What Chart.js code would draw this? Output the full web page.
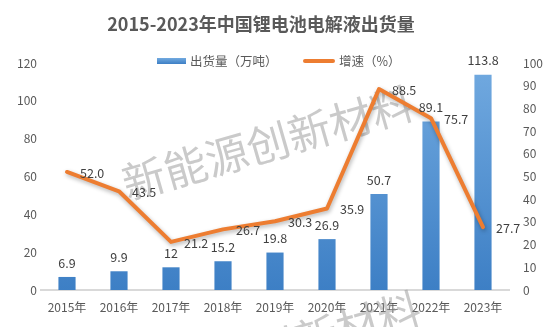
<!DOCTYPE html>
<html>
<head>
<meta charset="utf-8">
<script src="https://cdn.jsdelivr.net/npm/chart.js@4"></script>
<style>
html,body{margin:0;padding:0;background:#fff;}
#wrap{width:556px;height:327px;}
</style>
</head>
<body>
<div id="wrap"><canvas id="c" width="556" height="327"></canvas></div>
<script>
const categories = ['2015年','2016年','2017年','2018年','2019年','2020年','2021年','2022年','2023年'];
const shipments = [6.9, 9.9, 12, 15.2, 19.8, 26.9, 50.7, 89.1, 113.8];
const growth = [52.0, 43.5, 21.2, 26.7, 30.3, 35.9, 88.5, 75.7, 27.7];
const leftTicks = [0, 20, 40, 60, 80, 100, 120];
const rightTicks = [0, 10, 20, 30, 40, 50, 60, 70, 80, 90, 100];
const titleText = '2015-2023年中国锂电池电解液出货量';
const seriesNames = ['出货量（万吨）', '增速（%）'];
const watermarkText = '新能源创新材料';

const FONT = "'Noto Sans CJK SC', 'Microsoft YaHei', sans-serif";
Chart.defaults.font.family = FONT;

const BLUE_TOP = '#72aae0';
const BLUE_BOT = '#3d7fc5';
const ORANGE = '#ED7D31';

function barGradient(ctx) {
  const chart = ctx.chart;
  const area = chart.chartArea;
  if (!area) return BLUE_BOT;
  const g = chart.ctx.createLinearGradient(0, area.top, 0, area.bottom);
  g.addColorStop(0, BLUE_TOP);
  g.addColorStop(1, BLUE_BOT);
  return g;
}

const decorPlugin = {
  id: 'decor',
  beforeDatasetsDraw(chart) {
    const ctx = chart.ctx;
    ctx.save();
    ctx.fillStyle = 'rgba(150,150,150,0.5)';
    ctx.font = '43px ' + FONT;
    ctx.textAlign = 'center';
    ctx.textBaseline = 'middle';
    [[268, 143], [275, 348]].forEach(([x, y]) => {
      ctx.save();
      ctx.translate(x, y);
      ctx.rotate(-16 * Math.PI / 180);
      ctx.fillText(watermarkText, 0, 0);
      ctx.restore();
    });
    ctx.restore();
  },
  beforeDatasetDraw(chart, args) {
    if (args.index === 1) {
      const ctx = chart.ctx;
      ctx.save();
      ctx.shadowColor = 'rgba(0,0,0,0.3)';
      ctx.shadowBlur = 4;
      ctx.shadowOffsetX = 1;
      ctx.shadowOffsetY = 2;
    }
  },
  afterDatasetDraw(chart, args) {
    if (args.index === 1) chart.ctx.restore();
  },
  afterDatasetsDraw(chart) {
    const ctx = chart.ctx;
    ctx.save();
    ctx.fillStyle = '#404040';
    ctx.font = '12.5px ' + FONT;
    ctx.textBaseline = 'middle';
    const barMeta = chart.getDatasetMeta(0);
    ctx.textAlign = 'center';
    barMeta.data.forEach((el, i) => {
      ctx.fillText(String(shipments[i]), el.x, el.y - 14);
    });
    const lineMeta = chart.getDatasetMeta(1);
    ctx.textAlign = 'left';
    lineMeta.data.forEach((el, i) => {
      ctx.fillText(growth[i].toFixed(1), el.x + 13, el.y + 1);
    });
    ctx.restore();
  },
  afterDraw(chart) {
    const ctx = chart.ctx;
    ctx.save();
    // title
    ctx.fillStyle = '#595959';
    ctx.font = 'bold 18px ' + FONT;
    ctx.textAlign = 'center';
    ctx.textBaseline = 'middle';
    ctx.fillText(titleText, 261, 24);
    // legend
    const ly = 61;
    const g = ctx.createLinearGradient(0, ly - 3, 0, ly + 3);
    g.addColorStop(0, BLUE_TOP);
    g.addColorStop(1, BLUE_BOT);
    ctx.fillStyle = g;
    ctx.fillRect(157, ly - 3, 29, 6);
    ctx.strokeStyle = ORANGE;
    ctx.lineWidth = 4;
    ctx.lineCap = 'round';
    ctx.beginPath();
    ctx.moveTo(305, ly);
    ctx.lineTo(333, ly);
    ctx.stroke();
    ctx.fillStyle = '#595959';
    ctx.font = '12.5px ' + FONT;
    ctx.textAlign = 'left';
    ctx.fillText(seriesNames[0], 190, ly);
    ctx.fillText(seriesNames[1], 339, ly);
    ctx.restore();
  }
};

new Chart(document.getElementById('c'), {
  type: 'bar',
  data: {
    labels: categories,
    datasets: [
      {
        type: 'bar',
        label: seriesNames[0],
        data: shipments,
        backgroundColor: barGradient,
        yAxisID: 'y',
        barPercentage: 0.33,
        categoryPercentage: 1,
        order: 1
      },
      {
        type: 'line',
        label: seriesNames[1],
        data: growth,
        borderColor: ORANGE,
        backgroundColor: ORANGE,
        borderWidth: 4,
        pointRadius: 0,
        tension: 0,
        borderJoinStyle: 'round',
        borderCapStyle: 'round',
        yAxisID: 'y1',
        order: 0
      }
    ]
  },
  options: {
    responsive: false,
    devicePixelRatio: 1,
    animation: false,
    layout: { padding: { top: 63, left: 0, right: 0, bottom: 0 } },
    plugins: {
      legend: { display: false },
      title: { display: false },
      tooltip: { enabled: false }
    },
    scales: {
      x: {
        grid: { display: false, drawTicks: false },
        border: { display: true, color: '#d9d9d9', width: 2 },
        ticks: { color: '#595959', font: { size: 12 }, padding: 10, maxRotation: 0 },
        afterFit(s) { s.height = 37; }
      },
      y: {
        position: 'left',
        min: leftTicks[0],
        max: leftTicks[leftTicks.length - 1],
        afterBuildTicks(s) { s.ticks = leftTicks.map(v => ({ value: v })); },
        grid: { display: false, drawTicks: false },
        border: { display: false },
        ticks: { color: '#595959', font: { size: 12 }, padding: 4 },
        afterFit(s) { s.width = 41; }
      },
      y1: {
        position: 'right',
        min: rightTicks[0],
        max: rightTicks[rightTicks.length - 1],
        afterBuildTicks(s) { s.ticks = rightTicks.map(v => ({ value: v })); },
        grid: { display: false, drawTicks: false },
        border: { display: false },
        ticks: { color: '#595959', font: { size: 12 }, padding: 14 },
        afterFit(s) { s.width = 47; }
      }
    }
  },
  plugins: [decorPlugin]
});
</script>
</body>
</html>
